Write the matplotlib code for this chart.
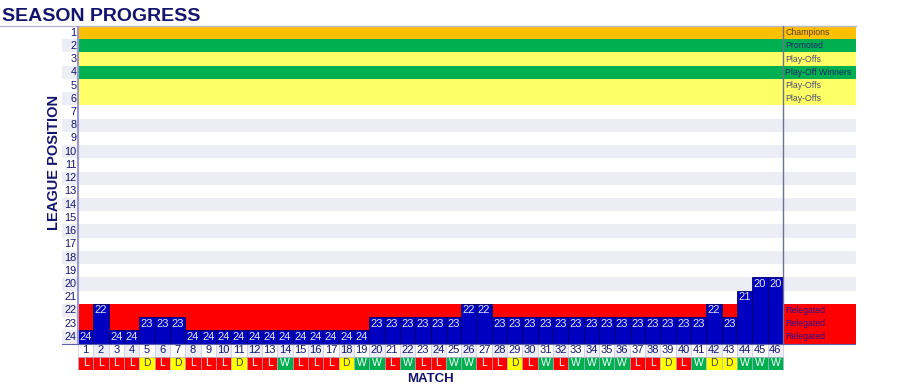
import matplotlib.pyplot as plt
from matplotlib.patches import Rectangle

plt.rcParams['font.family'] = ['Liberation Sans', 'DejaVu Sans']

# league position after each match
matches = list(range(1, 47))
positions = [24, 22, 24, 24, 23, 23, 23, 24, 24, 24, 24, 24, 24, 24, 24, 24, 24, 24, 24,
             23, 23, 23, 23, 23, 23, 22, 22, 23, 23, 23, 23, 23, 23, 23, 23, 23, 23, 23,
             23, 23, 23, 22, 23, 21, 20, 20]
results = ['L', 'L', 'L', 'L', 'D', 'L', 'D', 'L', 'L', 'L', 'D', 'L', 'L', 'W', 'L', 'L',
           'L', 'D', 'W', 'W', 'L', 'W', 'L', 'L', 'W', 'W', 'L', 'L', 'D', 'L', 'W', 'L',
           'W', 'W', 'W', 'W', 'L', 'L', 'D', 'L', 'W', 'D', 'D', 'W', 'W', 'W']
n_teams = 24

# zones on the right
zone_positions = [1, 2, 3, 4, 5, 6, 22, 23, 24]
zone_labels = ['Champions', 'Promoted', 'Play-Offs', 'Play-Off Winners', 'Play-Offs',
               'Play-Offs', 'Relegated', 'Relegated', 'Relegated']

zone_colors = {'Champions': '#ffc000', 'Promoted': '#00b050', 'Play-Offs': '#ffff66',
               'Play-Off Winners': '#00b050', 'Relegated': '#ff0000'}
zone_text = {'Champions': '#5a4030', 'Promoted': '#1a2a6a', 'Play-Offs': '#505070',
             'Play-Off Winners': '#1a2a6a', 'Relegated': '#30108a'}
result_colors = {'L': '#ff0000', 'D': '#ffff00', 'W': '#00b050'}
result_text = {'L': 'white', 'D': '#404040', 'W': 'white'}

navy = '#14146e'
stripe = '#ededf6'
bar_blue = '#0000c0'

fig = plt.figure(figsize=(9, 3.86), dpi=100)
ax = fig.add_axes([62 / 900, 16 / 386, 794 / 900, 344 / 386])
col_w = 705 / 46
xl = 0.5 - 16 / col_w
xr = 46.5 + 73 / col_w
ax.set_xlim(xl, xr)
ax.set_ylim(n_teams + 2.5, 0.5)
ax.axis('off')

zone_of = dict(zip(zone_positions, zone_labels))

# row backgrounds
for p in range(1, n_teams + 1):
    if p in zone_of:
        lab = zone_of[p]
        ax.add_patch(Rectangle((0.5, p - 0.5), xr - 0.5, 1, color=zone_colors[lab], lw=0))
        ax.text(46.5 + 0.15, p, lab, ha='left', va='center', fontsize=6.3,
                color=zone_text[lab])
    elif p % 2 == 0:
        ax.add_patch(Rectangle((0.5, p - 0.5), xr - 0.5, 1, color=stripe, lw=0))
    if p % 2 == 0:
        ax.add_patch(Rectangle((xl, p - 0.5), 0.5 - xl, 1, color=stripe, lw=0))
    ax.text(0.4, p, str(p), ha='right', va='center', fontsize=7.8, color=navy)

# position bars
ax.bar(matches, [n_teams + 0.5 - (p - 0.5) for p in positions],
       bottom=[p - 0.5 for p in positions], width=1,
       color=bar_blue, edgecolor='#00006a', linewidth=0.6, zorder=3)
for m, p in zip(matches, positions):
    ax.text(m, p, str(p), ha='center', va='center', fontsize=8,
            color='#e4e4ff', zorder=4)

# match numbers and results
for m, r in zip(matches, results):
    ax.add_patch(Rectangle((m - 0.5, n_teams + 0.5), 1, 1,
                           facecolor=stripe if m % 2 == 0 else 'white',
                           edgecolor='#d0d0ea', lw=0.6))
    ax.text(m, n_teams + 1, str(m), ha='center', va='center', fontsize=8, color=navy)
    ax.add_patch(Rectangle((m - 0.5, n_teams + 1.5), 1, 1,
                           facecolor=result_colors[r], edgecolor='#b0b0c8', lw=0.4))
    ax.text(m, n_teams + 2, r, ha='center', va='center', fontsize=7.5,
            color=result_text[r])

# grid lines
ax.plot([0.5, 0.5], [0.5, n_teams + 0.5], color='#9a9ad8', lw=1.5, zorder=5)
ax.plot([46.5, 46.5], [0.5, n_teams + 0.5], color='#707090', lw=1, zorder=5)
ax.plot([xl, xr], [n_teams + 0.5, n_teams + 0.5], color='#6060a8', lw=0.8, zorder=5)
ax.axhline(0.5, xmin=-62 / 794, xmax=1, color='#b8b8d0', lw=1, clip_on=False)

ax.text(xl - 0.5, 10.8, 'LEAGUE POSITION', rotation=90, ha='center', va='center',
        fontsize=10.5, fontweight='bold', color=navy)
ax.text(23.5, n_teams + 3.15, 'MATCH', ha='center', va='center', fontsize=9.5,
        fontweight='bold', color=navy)

fig.text(2 / 900, 1 - 21 / 386, 'SEASON PROGRESS', ha='left', va='baseline',
         fontsize=14, fontweight='bold', color=navy)

fig.savefig('out.png', dpi=100)
